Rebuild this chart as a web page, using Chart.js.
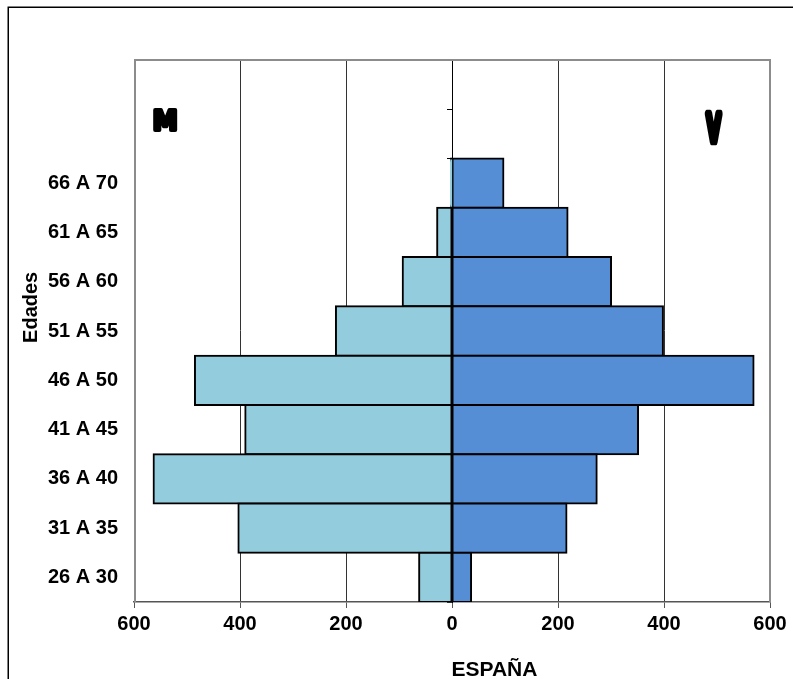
<!DOCTYPE html>
<html>
<head>
<meta charset="utf-8">
<script src="https://cdn.jsdelivr.net/npm/chart.js@4"></script>
<style>
html,body{margin:0;padding:0;background:#fff;overflow:hidden}
canvas{display:block}
</style>
</head>
<body>
<canvas id="c" width="793" height="679"></canvas>
<script>
// ---- data (top row first) ----
const edades  = ['', '', '66 A 70', '61 A 65', '56 A 60', '51 A 55', '46 A 50', '41 A 45', '36 A 40', '31 A 35', '26 A 30'];
const mujeres = [null, null, 2, 28, 93, 219, 485, 390, 563, 403, 62];
const varones = [null, null, 97, 218, 300, 398, 569, 351, 273, 216, 36];
const xMin = -600, xMax = 600, xStep = 200;
const tituloX = 'ESPAÑA';
const tituloY = 'Edades';
const etiquetaM = 'M';
const etiquetaV = 'V';

const FONT = '"Liberation Sans", Arial, sans-serif';

function fittedText(ctx, text, cx, cy, w, h, lw) {
  ctx.save();
  ctx.font = 'bold 40px "DejaVu Sans"';
  ctx.textAlign = 'left';
  ctx.textBaseline = 'alphabetic';
  const m = ctx.measureText(text);
  const tw = m.actualBoundingBoxLeft + m.actualBoundingBoxRight + lw;
  const th = m.actualBoundingBoxAscent + m.actualBoundingBoxDescent + lw;
  ctx.translate(cx, cy);
  ctx.scale(w / tw, h / th);
  const dx = -(m.actualBoundingBoxRight - m.actualBoundingBoxLeft) / 2;
  const dy = (m.actualBoundingBoxAscent - m.actualBoundingBoxDescent) / 2;
  ctx.fillStyle = '#000';
  ctx.strokeStyle = '#000';
  ctx.lineWidth = lw;
  ctx.lineJoin = 'round';
  ctx.fillText(text, dx, dy);
  ctx.strokeText(text, dx, dy);
  ctx.restore();
}

const decor = {
  id: 'decor',
  beforeDraw(chart) {
    const ctx = chart.ctx;
    ctx.save();
    ctx.strokeStyle = '#000';
    ctx.lineWidth = 1.5;
    ctx.strokeRect(8.25, 7.25, 900, 900);
    ctx.restore();
  },
  beforeDatasetsDraw(chart) {
    const {ctx, chartArea: a} = chart;
    ctx.save();
    ctx.strokeStyle = '#8c8c8c';
    ctx.lineWidth = 2;
    ctx.beginPath();
    ctx.moveTo(a.left + 1, a.bottom);
    ctx.lineTo(a.left + 1, a.top);
    ctx.lineTo(a.right, a.top);
    ctx.lineTo(a.right, a.bottom);
    ctx.stroke();
    ctx.restore();
  },
  afterDraw(chart) {
    const ctx = chart.ctx;
    const xs = chart.scales.x, ys = chart.scales.y;
    // M / V labels
    fittedText(ctx, etiquetaM, xs.getPixelForValue(-541), ys.getPixelForValue(0.72), 25, 24, 6);
    fittedText(ctx, etiquetaV, xs.getPixelForValue(494), ys.getPixelForValue(0.85), 18, 37, 9);
    // axis titles
    ctx.save();
    ctx.fillStyle = '#000';
    ctx.font = 'bold 20px ' + FONT;
    ctx.textAlign = 'center';
    ctx.textBaseline = 'middle';
    ctx.translate(31, ys.getPixelForValue(4.52));
    ctx.rotate(-Math.PI / 2);
    ctx.fillText(tituloY, 0, 0);
    ctx.restore();
    ctx.save();
    ctx.fillStyle = '#000';
    ctx.font = 'bold 21px ' + FONT;
    ctx.textAlign = 'center';
    ctx.textBaseline = 'alphabetic';
    ctx.fillText(tituloX, xs.getPixelForValue(80), 676);
    ctx.restore();
  }
};

new Chart(document.getElementById('c'), {
  type: 'bar',
  data: {
    labels: edades,
    datasets: [
      {
        label: 'M',
        data: mujeres.map(v => v === null ? null : -v),
        backgroundColor: '#93CDDD',
        borderColor: '#000',
        borderWidth: 2,
        borderSkipped: false,
        inflateAmount: 1,
        yAxisID: 'y'
      },
      {
        label: 'V',
        data: varones,
        backgroundColor: '#558ED5',
        borderColor: '#000',
        borderWidth: 2,
        borderSkipped: false,
        inflateAmount: 1,
        yAxisID: 'y'
      }
    ]
  },
  options: {
    indexAxis: 'y',
    responsive: false,
    animation: false,
    devicePixelRatio: 1,
    layout: { padding: { top: 60, right: 23, left: 0, bottom: 0 } },
    datasets: { bar: { barPercentage: 1, categoryPercentage: 1 } },
    plugins: { legend: { display: false }, tooltip: { enabled: false }, title: { display: false } },
    scales: {
      x: {
        type: 'linear',
        stacked: true,
        min: xMin, max: xMax,
        ticks: {
          stepSize: xStep,
          callback: v => Math.abs(v),
          color: '#000',
          font: { family: FONT, size: 20, weight: 'bold' },
          padding: 4,
          maxRotation: 0
        },
        grid: { color: '#333', lineWidth: 1, tickLength: 6, tickColor: '#555' },
        border: { display: true, color: '#555', width: 1.5 },
        afterFit: s => { s.height = 77; }
      },
      y: {
        type: 'category',
        position: 'left',
        stacked: true,
        grid: { display: false, drawTicks: false },
        border: { display: false },
        ticks: {
          color: '#000',
          font: { family: FONT, size: 20, weight: 'bold' },
          padding: 16,
          autoSkip: false
        },
        afterFit: s => { s.width = 134; }
      },
      y2: {
        type: 'category',
        position: { x: 0 },
        grid: { drawOnChartArea: false, tickLength: 5, color: '#000', offset: true },
        ticks: { display: false },
        border: { display: true, color: '#000', width: 1 }
      }
    }
  },
  plugins: [decor]
});
</script>
</body>
</html>
